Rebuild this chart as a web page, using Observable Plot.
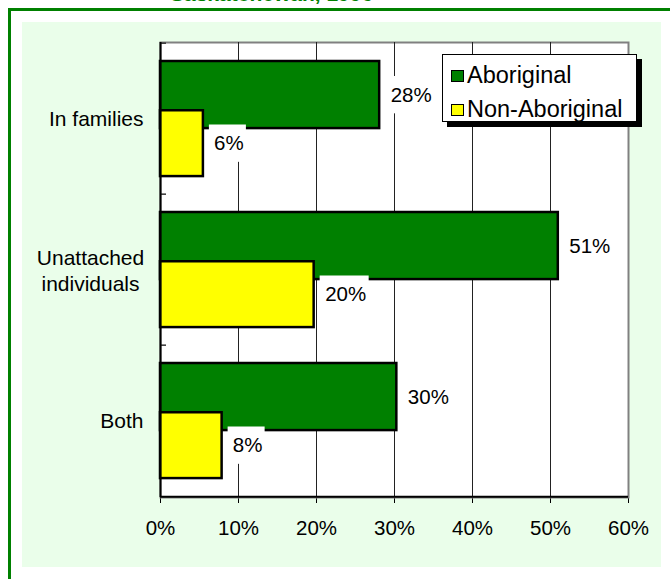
<!DOCTYPE html>
<html>
<head>
<meta charset="utf-8">
<script src="https://cdn.jsdelivr.net/npm/d3@7"></script>
<script src="https://cdn.jsdelivr.net/npm/@observablehq/plot@0.6"></script>
<style>
  html, body { margin: 0; padding: 0; width: 670px; height: 579px; overflow: hidden; background: #fff; font-family: "Liberation Sans", Arial, sans-serif; }
  #frame { position: absolute; left: 8px; top: 8px; width: 900px; height: 900px; border-top: 3px solid #008000; border-left: 3px solid #008000; box-sizing: border-box; }
  #title { position: absolute; left: 170px; top: -17px; font-size: 21px; font-weight: bold; color: #008000; white-space: nowrap; line-height: 21px; }
  #panel { position: absolute; left: 22px; top: 22px; width: 639px; height: 545px; background: #eafeea; }
  #panel svg { position: absolute; left: 0; top: 0; }
  #legend { position: absolute; left: 442px; top: 54px; width: 195px; height: 68px; box-sizing: border-box; background: #fff; border: 1px solid #000; box-shadow: 5px 5px 0 #000; padding: 3px 0 0 8px; }
  .row { height: 34px; display: flex; align-items: center; font-size: 23.5px; color: #000; }
  .sw { width: 11px; height: 10px; border: 1px solid #000; margin-right: 3px; margin-top: 2px; flex: none; }
</style>
</head>
<body>
<div id="title">Saskatchewan, 1996</div>
<div id="frame"></div>
<div id="panel"></div>
<div id="legend"></div>
<script>
const categories = ["In families", "Unattached\nindividuals", "Both"];
const aboriginal = [28.1, 51.0, 30.3];
const nonAboriginal = [5.5, 19.7, 7.9];
const seriesNames = ["Aboriginal", "Non-Aboriginal"];
const seriesColors = ["#008000", "#ffff00"];
const xTicks = [0, 10, 20, 30, 40, 50, 60];

const W = 639, H = 545;
const mL = 138, mT = 20, mR = 33, mB = 70;
const plotW = W - mL - mR;
const bw = (H - mT - mB) / categories.length;

const abo = categories.map((c, i) => ({category: c, value: aboriginal[i]}));
const non = categories.map((c, i) => ({category: c, value: nonAboriginal[i]}));
const fmt = d => Math.round(d.value) + "%";

// vertical geometry within a band (pixels)
const gTop = 18, gBot = bw - 85.75;
const yTop = 67.25, yBot = bw - 133.75;
const gCenter = 52 - bw / 2, yCenter = 100.5 - bw / 2;
const boxH = 38;

function labelMarks(data, center) {
  const top = center + bw / 2 - boxH / 2;
  const bot = bw - (top + boxH);
  const marks = [];
  for (const [wBox, test] of [[49, d => Math.round(d.value) >= 10], [37, d => Math.round(d.value) < 10]]) {
    const sub = data.filter(test);
    marks.push(Plot.barX(sub, {x1: "value", x2: "value", y: "category", insetLeft: 6, insetRight: -(6 + wBox), insetTop: top, insetBottom: bot, fill: "white"}));
    marks.push(Plot.text(sub, {x: "value", y: "category", text: fmt, dx: 6 + wBox / 2 + 1, dy: center, textAnchor: "middle", fontSize: 20.5, fill: "black"}));
  }
  return marks;
}

const chart = Plot.plot({
  width: W, height: H,
  marginLeft: mL, marginTop: mT, marginRight: mR, marginBottom: mB,
  style: {background: "transparent", fontSize: "20.5px", fontFamily: "'Liberation Sans', Arial, sans-serif", color: "#000", overflow: "visible"},
  x: {domain: [0, 60], ticks: xTicks, tickFormat: d => d + "%", tickSize: 6, tickPadding: 17, label: null},
  y: {domain: categories, padding: 0, axis: null},
  marks: [
    Plot.frame({fill: "white", stroke: "#808080", strokeWidth: 2}),
    Plot.ruleX(xTicks.filter(t => t > 0 && t < 60), {stroke: "#222", strokeWidth: 1}),
    Plot.barX(abo, {x: "value", y: "category", fill: seriesColors[0], stroke: "#000", strokeWidth: 2.5, insetTop: gTop, insetBottom: gBot}),
    Plot.barX(non, {x: "value", y: "category", fill: seriesColors[1], stroke: "#000", strokeWidth: 2.5, insetTop: yTop, insetBottom: yBot}),
    ...labelMarks(abo, gCenter),
    ...labelMarks(non, yCenter),
    Plot.ruleY(categories, {dy: -bw / 2, insetRight: plotW - 6, stroke: "#333", strokeWidth: 1.5}),
    Plot.ruleX([0], {stroke: "#000", strokeWidth: 2}),
    Plot.ruleY([categories[categories.length - 1]], {dy: bw / 2, stroke: "#000", strokeWidth: 2}),
    Plot.text(categories.filter(c => !c.includes("\n")), {y: d => d, text: d => d, frameAnchor: "left", dx: -17, textAnchor: "end", fontSize: 21, fill: "#000"}),
    Plot.text(categories.filter(c => c.includes("\n")), {y: d => d, text: d => d, frameAnchor: "left", dx: -70, textAnchor: "middle", fontSize: 21, lineHeight: 1.24, fill: "#000"})
  ]
});
document.getElementById("panel").appendChild(chart);

const legend = document.getElementById("legend");
seriesNames.forEach((name, i) => {
  const row = document.createElement("div");
  row.className = "row";
  const sw = document.createElement("span");
  sw.className = "sw";
  sw.style.background = seriesColors[i];
  const label = document.createElement("span");
  label.textContent = name;
  row.appendChild(sw);
  row.appendChild(label);
  legend.appendChild(row);
});
</script>
</body>
</html>
